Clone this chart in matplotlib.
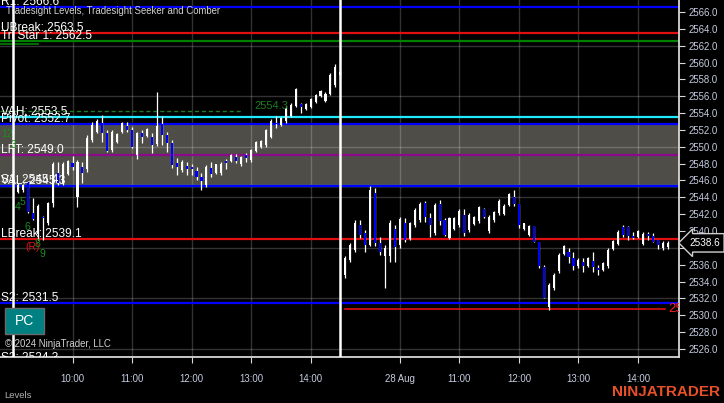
import matplotlib.pyplot as plt
from matplotlib.patches import Rectangle
import numpy as np
import pandas as pd

plt.rcParams['font.family'] = ['Liberation Sans', 'DejaVu Sans']

# 5 minute bars: 27 Aug 09:00-14:30 and 28 Aug 09:05-14:30
times = list(pd.date_range('2024-08-27 09:00', '2024-08-27 14:30', freq='5min')) + \
    list(pd.date_range('2024-08-28 09:05', '2024-08-28 14:30', freq='5min'))

opens = [2553.3, 2544.6, 2544.9, 2545.8, 2542.1, 2539.6, 2541.7, 2541.0, 2543.3, 2546.9,
         2545.7, 2546.8, 2548.1, 2544.0, 2547.6, 2547.4, 2550.8, 2551.8, 2552.8, 2551.6,
         2549.6, 2550.6, 2551.7, 2552.5, 2552.0, 2549.0, 2551.6, 2551.3, 2551.2, 2550.3,
         2552.7, 2551.4, 2550.5, 2548.1, 2547.2, 2547.7, 2547.6, 2547.1, 2546.4, 2545.5,
         2547.5, 2546.9, 2546.9, 2548.3, 2548.3, 2548.8, 2547.9, 2549.0, 2548.4, 2549.5,
         2550.0, 2550.2, 2551.2, 2552.8, 2552.6, 2553.0, 2553.7, 2554.8, 2555.1, 2554.5,
         2554.7, 2555.3, 2556.0, 2555.4, 2556.3, 2557.3, 2558.5,
         2534.8, 2536.6, 2537.8, 2540.7, 2539.8, 2538.4, 2544.5, 2538.6, 2537.0, 2537.0,
         2540.2, 2538.3, 2541.0, 2539.1, 2540.7, 2541.3, 2543.3, 2541.6, 2539.8, 2543.2,
         2541.3, 2539.2, 2540.3, 2540.7, 2541.9, 2540.1, 2540.8, 2541.2, 2542.6, 2540.0,
         2541.3, 2542.1, 2542.0, 2543.1, 2544.0, 2543.2, 2540.2, 2539.5, 2540.6, 2538.7,
         2535.7, 2531.0, 2533.2, 2535.2, 2537.3, 2537.5, 2536.8, 2535.9, 2536.3, 2535.9,
         2536.4, 2535.6, 2535.4, 2535.8, 2537.9, 2538.5, 2540.5, 2540.5, 2539.4, 2539.3,
         2538.5, 2539.7, 2539.4, 2538.9, 2538.0, 2538.1]
highs = [2553.4, 2545.7, 2545.6, 2545.9, 2543.9, 2543.2, 2541.8, 2543.4, 2548.2, 2548.2,
         2548.2, 2548.4, 2548.9, 2548.4, 2548.2, 2551.4, 2552.9, 2553.3, 2553.8, 2552.0,
         2552.0, 2551.6, 2552.9, 2552.9, 2552.4, 2551.8, 2552.0, 2552.2, 2551.6, 2556.5,
         2553.7, 2551.8, 2550.8, 2548.7, 2548.4, 2548.2, 2548.0, 2547.6, 2546.9, 2547.8,
         2548.2, 2548.0, 2548.2, 2548.6, 2549.1, 2549.1, 2548.9, 2549.3, 2549.7, 2550.7,
         2550.8, 2552.1, 2553.3, 2553.7, 2553.5, 2554.8, 2555.2, 2557.0, 2555.2, 2555.2,
         2555.8, 2556.3, 2556.7, 2556.5, 2558.8, 2559.8, 2559.0,
         2537.0, 2538.6, 2541.3, 2541.3, 2540.1, 2545.3, 2545.1, 2539.3, 2538.3, 2541.3,
         2540.7, 2541.7, 2541.6, 2541.1, 2542.7, 2543.4, 2543.6, 2542.1, 2543.3, 2543.7,
         2541.6, 2541.7, 2541.7, 2542.6, 2542.6, 2542.1, 2541.8, 2543.0, 2542.7, 2541.9,
         2542.4, 2543.8, 2543.2, 2544.5, 2544.9, 2543.2, 2541.0, 2540.7, 2540.6, 2538.7,
         2536.0, 2533.8, 2535.0, 2537.4, 2538.3, 2538.0, 2537.5, 2536.8, 2536.8, 2536.9,
         2537.5, 2536.0, 2536.3, 2538.0, 2538.9, 2540.1, 2540.7, 2540.6, 2539.9, 2540.1,
         2539.9, 2539.9, 2539.8, 2538.9, 2538.8, 2538.8]
lows = [2551.6, 2544.5, 2544.6, 2542.1, 2541.3, 2538.9, 2538.9, 2540.7, 2542.9, 2545.5,
        2545.5, 2546.7, 2547.2, 2542.9, 2545.7, 2547.0, 2550.6, 2551.6, 2550.6, 2549.4,
        2549.4, 2550.5, 2551.6, 2551.8, 2549.9, 2548.6, 2550.5, 2551.2, 2549.3, 2550.1,
        2550.2, 2549.4, 2547.5, 2546.7, 2547.0, 2546.7, 2546.7, 2546.1, 2544.9, 2545.2,
        2546.4, 2546.8, 2546.7, 2547.4, 2548.2, 2548.1, 2547.7, 2548.2, 2548.2, 2549.4,
        2549.9, 2550.0, 2551.0, 2552.2, 2552.5, 2552.8, 2553.5, 2554.7, 2554.0, 2554.4,
        2554.6, 2555.2, 2555.9, 2555.3, 2556.1, 2557.1, 2558.4,
        2534.4, 2536.3, 2537.5, 2539.2, 2537.5, 2538.2, 2538.2, 2537.2, 2533.2, 2536.3,
        2536.3, 2538.0, 2538.7, 2538.9, 2540.5, 2541.1, 2541.1, 2539.3, 2539.5, 2540.7,
        2539.4, 2539.0, 2540.1, 2540.5, 2539.4, 2539.9, 2540.7, 2541.0, 2541.6, 2539.8,
        2541.1, 2541.9, 2541.9, 2543.0, 2543.0, 2540.4, 2540.1, 2539.4, 2538.7, 2535.6,
        2532.1, 2530.6, 2533.0, 2535.0, 2537.2, 2536.2, 2535.4, 2535.6, 2535.1, 2535.7,
        2535.1, 2534.8, 2535.3, 2535.6, 2537.8, 2538.3, 2539.3, 2538.9, 2539.1, 2539.2,
        2538.3, 2538.9, 2538.7, 2537.9, 2537.8, 2537.9]
closes = [2551.9, 2545.5, 2545.5, 2542.2, 2541.4, 2543.0, 2541.6, 2543.3, 2548.0, 2545.7,
          2548.0, 2548.3, 2547.6, 2548.2, 2546.9, 2551.0, 2552.6, 2553.1, 2551.6, 2549.5,
          2551.8, 2551.5, 2552.8, 2552.0, 2550.0, 2551.6, 2551.2, 2552.1, 2550.2, 2552.5,
          2551.4, 2550.5, 2547.8, 2547.6, 2548.2, 2547.4, 2547.4, 2546.4, 2545.9, 2547.6,
          2546.8, 2547.9, 2548.0, 2548.1, 2549.0, 2548.3, 2548.8, 2548.7, 2549.6, 2550.6,
          2550.7, 2552.0, 2553.0, 2552.7, 2553.4, 2554.6, 2555.0, 2556.8, 2554.7, 2555.1,
          2555.7, 2556.2, 2556.6, 2556.3, 2558.5, 2559.5, 2558.9,
          2536.8, 2538.3, 2541.0, 2539.5, 2538.3, 2544.9, 2538.6, 2537.5, 2538.0, 2541.0,
          2538.1, 2541.4, 2538.9, 2540.9, 2542.5, 2543.2, 2541.7, 2540.7, 2543.1, 2541.2,
          2539.5, 2541.5, 2541.6, 2542.4, 2539.8, 2541.9, 2541.7, 2542.8, 2541.7, 2541.7,
          2542.3, 2543.6, 2543.0, 2544.4, 2543.2, 2540.7, 2540.9, 2540.6, 2538.7, 2535.9,
          2532.1, 2533.6, 2534.8, 2537.2, 2538.2, 2536.9, 2535.9, 2536.6, 2535.9, 2536.8,
          2535.7, 2535.4, 2536.2, 2537.8, 2538.8, 2539.9, 2539.5, 2539.4, 2539.2, 2540.0,
          2539.7, 2539.4, 2538.7, 2538.3, 2538.6, 2538.6]

# Tradesight levels
level_names = ['R1', 'UBreak', 'Tri Star 1', 'VAH', 'Pivot', 'LFT', 'VAL', 'S1', 'LBreak', 'S2', 'S3']
level_values = [2566.6, 2563.5, 2562.5, 2553.5, 2552.7, 2549.0, 2545.3, 2545.4, 2539.1, 2531.5, 2524.3]
level_colors = ['#0000ff', '#e01010', '#008000', '#20e8ff', '#0000ff', '#8a0a8a', '#20e8ff',
                '#0000ff', '#e01010', '#0000ff', '#0000ff']
prior_close = 2554.3
day_low = 2530.7
last_price = 2538.6

# seeker / comber counts: (label, bar index, price, colour)
counts = [('12', -1.1, 2551.5, '#1e8c1e'), ('3', 0.2, 2550.2, '#1e8c1e'), ('4', 0.9, 2542.9, '#1e8c1e'),
          ('5', 1.9, 2543.4, '#1e8c1e'), ('6', 2.9, 2540.5, '#1e8c1e'), ('(R)', 4.0, 2538.1, '#e01010'),
          ('8', 5.0, 2538.5, '#1e8c1e'), ('9', 5.9, 2537.3, '#1e8c1e')]

W, H = 724, 403
fig = plt.figure(figsize=(W / 100, H / 100), dpi=100, facecolor='black')
ax = fig.add_axes([0, 1 - 357 / H, 679 / W, 357 / H])
ax.set_facecolor('black')

x = np.arange(len(times))
o = np.array(opens)
c = np.array(closes)
up = c >= o

# value area box
ax.axhspan(level_values[7], level_values[4], color='#4e4d47', zorder=0)

# grid
ax.set_ylim(2525.05, 2567.42)
ax.set_xlim(-2.62, 134.27)
yt = np.arange(2526, 2567, 2)
ax.set_yticks(yt)
ax.set_yticklabels([f'{v:.1f}' for v in yt])
for v in np.arange(2526, 2567, 6):
    ax.axhline(v, color='white', alpha=0.2, lw=1, zorder=1)

hour_idx = [i for i, t in enumerate(times) if t.minute == 0 and t.hour >= 10]
hour_lab = []
for i in hour_idx:
    t = times[i]
    if t.day == 28 and t.hour == 10:
        hour_lab.append('28 Aug')
    else:
        hour_lab.append(t.strftime('%H:%M'))
ax.set_xticks(hour_idx)
ax.set_xticklabels(hour_lab)
for i in hour_idx:
    ax.axvline(i, color='white', alpha=0.2, lw=1, zorder=1)

# level lines
for name, v, col in zip(level_names, level_values, level_colors):
    ax.axhline(v, color=col, lw=1.6, zorder=2)
    ax.annotate(f'{name}: {v:.1f}', xy=(0.002, v), xycoords=ax.get_yaxis_transform(),
                xytext=(0, 1.5), textcoords='offset points', color='white', fontsize=8.6,
                va='baseline', ha='left', clip_on=True, zorder=9)

ax.plot([-2.62, 5.0], [2562.2, 2562.2], color='#008000', lw=1.2, zorder=2)
ax.plot([-2.62, 46.4], [prior_close, prior_close], color='#1e7a1e', lw=1, ls=(0, (3, 2)), zorder=2)
ax.text(52, 2554.8, f'{prior_close:.1f}', color='#1e7a1e', fontsize=8, ha='center', va='center', zorder=9)
ax.plot([67, 131.4], [day_low, day_low], color='#e01010', lw=1.2, zorder=2)
ax.text(132.1, day_low, f'{day_low:.1f}', color='#ff2020', fontsize=9.5, ha='left', va='center',
        clip_on=True, zorder=9)

# session lines
ax.axvline(0, color='white', lw=1.8, zorder=6)
ax.axvline(66, color='white', lw=1.8, zorder=6)

# candles
ax.vlines(x, lows, highs, color='white', lw=0.9, zorder=4)
body_lo = np.minimum(o, c)
body_h = np.maximum(np.abs(c - o), 0.12)
ax.bar(x, body_h, bottom=body_lo, width=0.42, color=np.where(up, 'white', '#0000ff'),
       linewidth=0, zorder=5)

for lab, xi, p, col in counts:
    ax.text(xi, p, lab, color=col, fontsize=7.5, ha='center', va='center', zorder=9)

# axes styling
for s in ['top', 'left']:
    ax.spines[s].set_visible(False)
for s in ['bottom', 'right']:
    ax.spines[s].set_color('#d8d8d8')
    ax.spines[s].set_linewidth(1.3)
ax.yaxis.tick_right()
ax.tick_params(axis='y', colors='#d8d8d8', labelcolor='#c5cde0', labelsize=6.9, length=4, pad=3)
ax.tick_params(axis='x', colors='#d8d8d8', labelcolor='#c5cde0', labelsize=6.9, length=4, pad=8)

# last price marker
ax.annotate(f'{last_price:.1f}', xy=(1.0, last_price), xycoords=ax.get_yaxis_transform(),
            xytext=(7.3, 0), textcoords='offset points', color='white', fontsize=7.2, va='center',
            ha='left', annotation_clip=False, zorder=10,
            bbox=dict(boxstyle='larrow,pad=0.42', fc='black', ec='#cfcfcf', lw=1))

fig.text(6 / W, 1 - 11 / H, 'Tradesight Levels, Tradesight Seeker and Comber', color='#d0d0d0',
         fontsize=6.9, va='center', ha='left')
fig.add_artist(Rectangle((5 / W, 1 - 334 / H), 39 / W, 26 / H, transform=fig.transFigure,
                         fc='#008080', ec='#6a6a6a', lw=1))
fig.text(24.5 / W, 1 - 321 / H, 'PC', color='white', fontsize=10, ha='center', va='center')
fig.text(5 / W, 1 - 344 / H, '\u00a9 2024 NinjaTrader, LLC', color='#d0d0d0', fontsize=6.9,
         va='center', ha='left')
fig.text(4 / W, 1 - 395 / H, 'Levels', color='#b0b0b0', fontsize=6.8, va='center', ha='left')
fig.text(612 / W, 1 - 392 / H, 'NINJATRADER', color='#e8502a', fontsize=11, fontweight='bold',
         va='center', ha='left')

fig.savefig('out.png', dpi=100, facecolor='black')
